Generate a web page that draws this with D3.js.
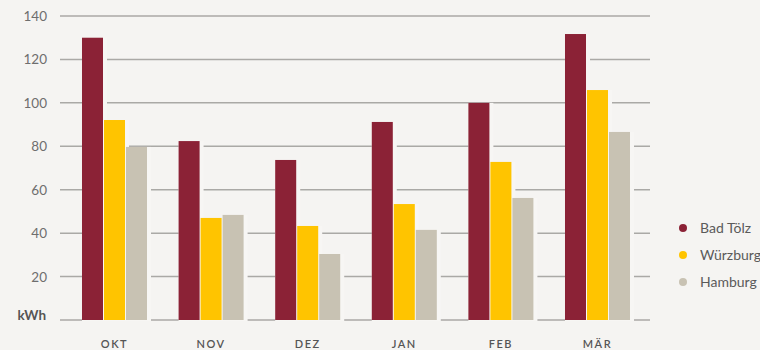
<!DOCTYPE html>
<html>
<head>
<meta charset="utf-8">
<script src="https://cdn.jsdelivr.net/npm/d3@7"></script>
<style>
  html, body { margin: 0; padding: 0; background: #f5f4f2; }
  svg { display: block; }
</style>
</head>
<body>
<svg id="chart" width="760" height="350"></svg>
<script>
// Monthly consumption per location (kWh)
const months = ["OKT", "NOV", "DEZ", "JAN", "FEB", "MÄR"];
const seriesNames = ["Bad Tölz", "Würzburg", "Hamburg"];
const badToelz = [130, 82.4, 73.7, 91.2, 100, 131.7];
const wuerzburg = [92.1, 47, 43.3, 53.4, 72.8, 105.9];
const hamburg = [79.7, 48.4, 30.4, 41.5, 56.2, 86.6];
const yTicks = [20, 40, 60, 80, 100, 120, 140];
const unitLabel = "kWh";

const colors = ["#8b2236", "#ffc400", "#c8c2b3"];
const values = [badToelz, wuerzburg, hamburg];

const svg = d3.select("#chart");
const font = "Lato, 'Open Sans', sans-serif";

const x = d3.scaleBand().domain(months).range([66.2, 645.8])
  .paddingInner(0.327).paddingOuter(0.1635);
const xs = d3.scaleBand().domain(seriesNames).range([0, x.bandwidth() + 1]);
const y = d3.scaleLinear().domain([0, 140]).range([320, 16]);

// Horizontal gridlines including the baseline
svg.append("g").selectAll("line").data([0, ...yTicks]).join("line")
  .attr("x1", 60).attr("x2", 650)
  .attr("y1", d => y(d)).attr("y2", d => y(d))
  .attr("stroke", "#aaa9a6").attr("stroke-width", 1.5);

// Y tick labels
svg.append("g").selectAll("text").data(yTicks).join("text")
  .attr("x", 47).attr("y", d => y(d) + 5)
  .attr("text-anchor", "end")
  .attr("font-family", font).attr("font-size", 13.5)
  .attr("fill", "#6e6e6e")
  .text(d => d);

svg.append("text")
  .attr("x", 46).attr("y", y(0) - 0.5)
  .attr("text-anchor", "end")
  .attr("font-family", font).attr("font-size", 13.5).attr("font-weight", "bold")
  .attr("fill", "#555")
  .text(unitLabel);

// Bars, each with a background-coloured backing that cuts the gridlines to its right
const data = [];
months.forEach((m, i) => seriesNames.forEach((s, j) => data.push({ m, s, j, v: values[j][i] })));

const barW = xs.bandwidth() - 1;
const bars = svg.append("g");
bars.selectAll("rect.back").data(data).join("rect")
  .attr("class", "back")
  .attr("x", d => x(d.m) + xs(d.s))
  .attr("y", d => y(d.v))
  .attr("width", barW + 4)
  .attr("height", d => y(0) - y(d.v) + 1)
  .attr("fill", "#f7f6f4");
bars.selectAll("rect.bar").data(data).join("rect")
  .attr("class", "bar")
  .attr("x", d => x(d.m) + xs(d.s))
  .attr("y", d => y(d.v))
  .attr("width", barW)
  .attr("height", d => y(0) - y(d.v))
  .attr("fill", d => colors[d.j]);

// Month labels
svg.append("g").selectAll("text").data(months).join("text")
  .attr("x", d => x(d) + x.bandwidth() / 2)
  .attr("y", 348)
  .attr("text-anchor", "middle")
  .attr("font-family", font).attr("font-size", 11).attr("font-weight", 600)
  .attr("letter-spacing", 1.5)
  .attr("fill", "#555")
  .text(d => d);

// Legend
const legend = svg.append("g").selectAll("g").data(seriesNames).join("g")
  .attr("transform", (d, i) => `translate(683, ${228 + i * 27})`);
legend.append("circle").attr("r", 4).attr("fill", (d, i) => colors[i]);
legend.append("text")
  .attr("x", 17).attr("y", 5)
  .attr("font-family", font).attr("font-size", 14)
  .attr("fill", "#5a5a5a")
  .text(d => d);
</script>
</body>
</html>
